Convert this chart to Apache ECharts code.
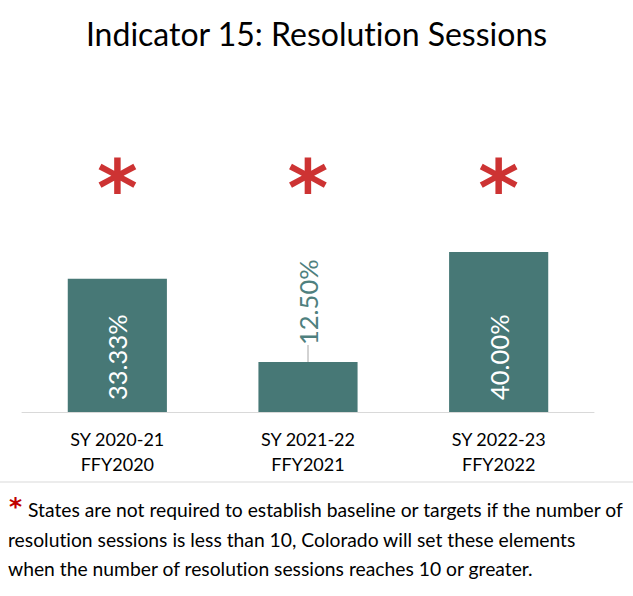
<!DOCTYPE html>
<html>
<head>
<meta charset="utf-8">
<script src="https://cdn.jsdelivr.net/npm/echarts@6/dist/echarts.min.js"></script>
<style>html,body{margin:0;padding:0;background:#fff;}#chart{width:633px;height:596px;}
#chart text{font-variant-ligatures:none;font-feature-settings:"liga" 0,"clig" 0;}</style>
</head>
<body>
<div id="chart"></div>
<script>
const categories = ['SY 2020-21\nFFY2020', 'SY 2021-22\nFFY2021', 'SY 2022-23\nFFY2022'];
const values = [33.33, 12.50, 40.00];
const asteriskLevel = [59, 59, 59];
const titleText = 'Indicator 15: Resolution Sessions';
const footLines = [
  'States are not required to establish baseline or targets if the number of',
  'resolution sessions is less than 10, Colorado will set these elements',
  'when the number of resolution sessions reaches 10 or greater.'
];

const teal = '#477876';
const chart = echarts.init(document.getElementById('chart'), null, {renderer: 'svg'});
const FONT = 'Lato';
chart.setOption({
  backgroundColor: '#fff',
  animation: false,
  title: {
    text: titleText, left: 'center', top: 12,
    textStyle: {fontFamily: FONT, fontSize: 32, fontWeight: 'normal', color: '#000'}
  },
  grid: {left: 22, right: 39, top: 162, bottom: 184, containLabel: false},
  xAxis: {
    type: 'category', data: categories,
    axisLine: {lineStyle: {color: '#D9D9D9', width: 1}},
    axisTick: {show: false},
    axisLabel: {fontFamily: FONT, fontSize: 18, color: '#000', lineHeight: 25, margin: 14}
  },
  yAxis: {type: 'value', min: 0, max: 62.5, show: false, splitLine: {show: false}},
  series: [
    {
      type: 'bar', data: values.map((v, i) => {
        const d = {value: v};
        if (i === 1) {
          d.label = {position: 'top', color: '#4F807E', distance: 17};
        }
        return d;
      }),
      barWidth: '52%',
      itemStyle: {color: teal},
      label: {
        show: true, position: 'insideBottom', rotate: 90, align: 'left', verticalAlign: 'middle',
        distance: 12, fontFamily: FONT, fontSize: 25.5, color: '#fff',
        formatter: p => p.value.toFixed(2) + '%'
      },
      labelLine: {show: true, lineStyle: {color: '#A6A6A6', width: 1}}
    },
    {
      type: 'scatter', data: asteriskLevel, symbolSize: 0, silent: true,
      label: {
        show: true, position: 'inside', formatter: '*',
        fontFamily: 'DejaVu Sans', fontWeight: 'bold', fontSize: 78, color: '#C00000', offset: [0, 13]
      }
    }
  ],
  graphic: [
    {type: 'line', shape: {x1: 0, y1: 482, x2: 633, y2: 482}, style: {stroke: '#D9D9D9', lineWidth: 1}},
    {type: 'text', left: 9, top: 494, style: {text: '*', fontFamily: 'DejaVu Sans', fontWeight: 'bold', fontSize: 25, fill: '#C00000'}},
    {type: 'text', left: 28, top: 500, style: {text: footLines[0], fontFamily: FONT, fontSize: 19.3, fill: '#000'}},
    {type: 'text', left: 8, top: 530, style: {text: footLines[1], fontFamily: FONT, fontSize: 19.3, fill: '#000'}},
    {type: 'text', left: 8, top: 559, style: {text: footLines[2], fontFamily: FONT, fontSize: 19.3, fill: '#000'}}
  ]
});
</script>
</body>
</html>
